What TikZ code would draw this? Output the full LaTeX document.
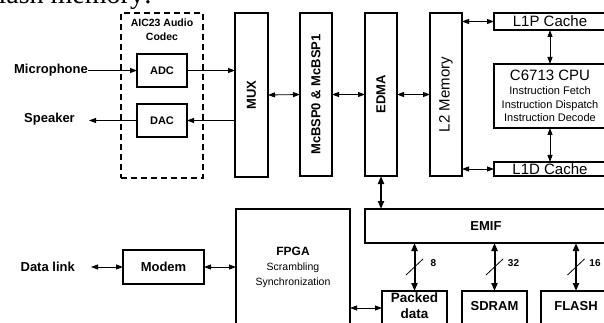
\documentclass[tikz,border=0pt]{standalone}
\usepackage{fontspec}
\setmainfont{Liberation Sans}
\newfontfamily\headfont{Liberation Serif}
\usetikzlibrary{arrows.meta, calc}

\tikzset{
  blk/.style={draw, line width=1.3pt, inner sep=0pt, outer sep=0pt},
  tall/.style={blk, minimum width=32, minimum height=163},
  lbl/.style={font=\fontsize{13}{16}\selectfont\bfseries, inner sep=0pt},
  thin/.style={font=\fontsize{15}{17}\selectfont},
  sig/.style={-{Triangle[length=7pt,width=5pt]}, line width=0.8pt},
  bi/.style={{Triangle[length=7pt,width=5pt]}-{Triangle[length=7pt,width=5pt]}, line width=0.8pt},
  bus/.style={{Triangle[length=8pt,width=6pt]}-{Triangle[length=8pt,width=6pt]}, line width=2pt}
}

\begin{document}
\begin{tikzpicture}[x=1pt, y=-1pt]
    \useasboundingbox (0,0) rectangle (604,323);
    \clip (0,0) rectangle (604,323);
    \node[anchor=base east, inner sep=0pt, font=\headfont\fontsize{28}{30}\selectfont] (head) at (152,4) {flash memory:};

    % codec
    \node[draw, line width=2pt, dash pattern=on 6pt off 4pt, minimum width=82, minimum height=165, inner sep=0pt] (codec) at (162,95.5) {};
    \node[lbl, font=\fontsize{10.5}{14}\selectfont\bfseries, align=center] (codectxt) at (162,30) {AIC23 Audio\\Codec};
    \node[blk, lbl, font=\fontsize{11}{13}\selectfont\bfseries, minimum width=50, minimum height=33] (adc) at (162,70.5) {ADC};
    \node[blk, lbl, font=\fontsize{11}{13}\selectfont\bfseries, minimum width=50, minimum height=33] (dac) at (162,120.5) {DAC};
    \node[lbl, anchor=east] (mic) at (88,70.5) {Microphone};
    \node[lbl, anchor=east] (spk) at (75,119.5) {Speaker};
    \coordinate (spkend) at (89,120.5);

    % DSP chain
    \node[tall, minimum width=33, minimum height=164, label={[lbl, rotate=90]center:MUX}] (mux) at (251.5,95) {};
    \node[tall, label={[lbl, rotate=90]center:McBSP0 \& McBSP1}] (mcbsp) at (316,94.5) {};
    \node[tall, label={[lbl, rotate=90]center:EDMA}] (edma) at (381,94.5) {};
    \node[tall, label={[thin, inner sep=0pt, rotate=90]center:L2 Memory}] (l2) at (446,94.5) {};
    \node[blk, thin, minimum width=112, minimum height=17] (l1p) at (550,21.5) {L1P Cache};
    \node[blk, align=center, minimum width=112, minimum height=64, font=\fontsize{11}{13.5}\selectfont] (cpu) at (550,96)
        {{\fontsize{15}{16}\selectfont C6713 CPU}\\[1pt]Instruction Fetch\\Instruction Dispatch\\Instruction Decode};
    \node[blk, thin, minimum width=112, minimum height=14] (l1d) at (550,169) {L1D Cache};

    % lower half
    \node[blk, lbl, minimum width=242, minimum height=34] (emif) at (486,226) {EMIF};
    \node[blk, align=center, minimum width=114, minimum height=116, font=\fontsize{10.5}{15}\selectfont] (fpga) at (293,267)
        {{\fontsize{12}{14}\selectfont\bfseries FPGA}\\Scrambling\\Synchronization};
    \node[blk, lbl, minimum width=81, minimum height=34] (modem) at (163.5,267) {Modem};
    \node[lbl, anchor=east] (dlink) at (75,266.5) {Data link};
    \coordinate (dlend) at (91,267);
    \node[blk, lbl, font=\fontsize{13.5}{16}\selectfont\bfseries, align=center, text depth=5pt, minimum width=65, minimum height=34] (pkd) at (414.5,308) {Packed\\data};
    \node[blk, lbl, text depth=4pt, minimum width=65, minimum height=34] (sdram) at (494.5,308) {SDRAM};
    \node[blk, lbl, text depth=4pt, minimum width=70, minimum height=34] (flash) at (576,308) {FLASH};

    \draw[sig] (mic.east) -- (mic.east -| adc.west);
    \draw[sig] (adc.east) -- (adc.east -| mux.west);
    \draw[sig] (mux.west |- dac.east) -- (dac.east);
    \draw[sig] (dac.west) -- (spkend);
    \draw[bi] (mux.east) -- (mcbsp.west);
    \draw[bi] (mcbsp.east) -- (edma.west);
    \draw[bi] (edma.east) -- (l2.west);
    \draw[bi] (l2.east |- l1p.west) -- (l1p.west);
    \draw[bi] (l2.east |- l1d.west) -- (l1d.west);
    \draw[bi] (l1p.south) -- (cpu.north);
    \draw[bi] (cpu.south) -- (l1d.north);
    \draw[bus] (edma.south) -- (edma.south |- emif.north);
    \draw[bi] (dlend) -- (modem.west);
    \draw[bi] (modem.east) -- (modem.east -| fpga.west);
    \draw[bi] (fpga.east |- pkd.west) -- (pkd.west);

    \foreach \m/\w in {pkd/8, sdram/32, flash/16} {
        \draw[bus] (emif.south -| \m.north) -- (\m.north) coordinate[midway] (s\m);
        \draw[line width=0.8pt] (s\m) +(-8.5,8) -- +(8.5,-8);
        \node[font=\fontsize{10}{12}\selectfont\bfseries, inner sep=0pt] (w\m) at ($(s\m)+(19,-4)$) {\w};
    }
\end{tikzpicture}
\end{document}
